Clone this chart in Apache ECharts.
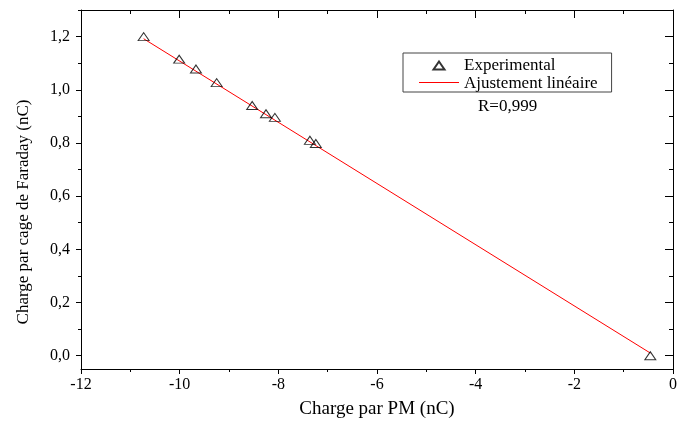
<!DOCTYPE html>
<html>
<head>
<meta charset="utf-8">
<script src="https://cdn.jsdelivr.net/npm/echarts@6/dist/echarts.min.js"></script>
<style>
html,body{margin:0;padding:0;background:#fff;}
#chart{width:680px;height:424px;}
</style>
</head>
<body>
<div id="chart"></div>
<script>
// Experimental points (Charge par PM, Charge par cage de Faraday)
const expX = [-10.73, -10.01, -9.67, -9.25, -8.53, -8.25, -8.07, -7.36, -7.24, -0.46];
const expY = [1.200, 1.115, 1.078, 1.027, 0.941, 0.910, 0.896, 0.810, 0.798, 0.000];
// Linear fit endpoints
const fitX = [-10.73, -0.46];
const fitY = [1.192, 0.010];
// Tick values
const yMajor = [0, 0.2, 0.4, 0.6, 0.8, 1.0, 1.2];
const yMinor = [0.1, 0.3, 0.5, 0.7, 0.9, 1.1, 1.3];
const seriesNames = ['Experimental', 'Ajustement linéaire'];
const rText = 'R=0,999';
const xTitle = 'Charge par PM (nC)';
const yTitle = 'Charge par cage de Faraday (nC)';

const FONT = '"Liberation Serif", "Times New Roman", serif';
const fmt = v => v.toFixed(1).replace('.', ',');
const TRI = 'path://M5.5,0L11,8L0,8Z';

const chart = echarts.init(document.getElementById('chart'));
const axLine = {show: true, onZero: false, lineStyle: {color: '#000', width: 1}};
const noLine = {show: false, onZero: false};
const yBase = {type: 'value', min: -0.05, max: 1.3, splitLine: {show: false}};

chart.setOption({
  animation: false,
  backgroundColor: '#fff',
  grid: {left: 81, top: 10, right: -1, bottom: 53},
  legend: {
    orient: 'vertical',
    left: 403, top: 53,
    data: [
      {name: seriesNames[0], icon: TRI},
      {name: seriesNames[1], icon: 'none'}
    ],
    itemWidth: 40, itemHeight: 8, itemGap: 1,
    padding: [4, 14, 0, 16],
    borderColor: '#444', borderWidth: 1,
    textStyle: {fontFamily: FONT, fontSize: 17, color: '#000'}
  },
  graphic: [
    // red sample line of the legend's second entry
    {type: 'line', shape: {x1: 419, y1: 82.5, x2: 459, y2: 82.5},
     style: {stroke: '#ff0000', lineWidth: 1}, z: 100},
    {type: 'text', left: 478, top: 98, style: {text: rText, font: '17px ' + FONT, fill: '#000'}},
    {type: 'text', x: 24, y: 212, rotation: Math.PI / 2,
     style: {text: yTitle, font: '17px ' + FONT, fill: '#000', align: 'center', verticalAlign: 'middle'}}
  ],
  xAxis: [
    {type: 'value', position: 'bottom', min: -12, max: 0, interval: 2,
     axisLine: axLine, splitLine: {show: false},
     axisTick: {show: true, inside: false, length: 5, lineStyle: {color: '#000'}},
     minorTick: {show: true, splitNumber: 2, length: 3, lineStyle: {color: '#000'}},
     axisLabel: {color: '#000', fontFamily: FONT, fontSize: 16, margin: 8},
     name: xTitle, nameLocation: 'middle', nameGap: 31,
     nameTextStyle: {fontFamily: FONT, fontSize: 19, color: '#000'}},
    {type: 'value', position: 'top', min: -12, max: 0, interval: 2,
     axisLine: axLine, splitLine: {show: false},
     axisTick: {show: true, inside: true, length: 8, lineStyle: {color: '#000'}},
     minorTick: {show: true, splitNumber: 2, length: 4, lineStyle: {color: '#000'}},
     axisLabel: {show: false}}
  ],
  yAxis: [
    Object.assign({}, yBase, {position: 'left', axisLine: axLine,
      axisTick: {show: true, inside: false, length: 5, customValues: yMajor, lineStyle: {color: '#000'}},
      axisLabel: {show: true, customValues: yMajor, formatter: fmt, color: '#000', fontFamily: FONT, fontSize: 16, margin: 11}}),
    Object.assign({}, yBase, {position: 'left', axisLine: noLine,
      axisTick: {show: true, inside: false, length: 3, customValues: yMinor, lineStyle: {color: '#000'}},
      axisLabel: {show: false}}),
    Object.assign({}, yBase, {position: 'right', axisLine: axLine,
      axisTick: {show: true, inside: true, length: 8, customValues: yMajor, lineStyle: {color: '#000'}},
      axisLabel: {show: false}}),
    Object.assign({}, yBase, {position: 'right', axisLine: noLine,
      axisTick: {show: true, inside: true, length: 4, customValues: yMinor, lineStyle: {color: '#000'}},
      axisLabel: {show: false}})
  ],
  series: [
    {name: seriesNames[1], type: 'line', xAxisIndex: 0, yAxisIndex: 0,
     data: fitX.map((x, i) => [x, fitY[i]]),
     symbol: 'none', color: '#ff0000',
     lineStyle: {color: '#ff0000', width: 1}, itemStyle: {color: '#ff0000'}, z: 2},
    {name: seriesNames[0], type: 'scatter', xAxisIndex: 0, yAxisIndex: 0,
     data: expX.map((x, i) => [x, expY[i]]),
     symbol: TRI, symbolSize: [11, 8],
     itemStyle: {color: 'rgba(0,0,0,0)', borderColor: '#000', borderWidth: 1}, z: 3}
  ]
});
</script>
</body>
</html>
